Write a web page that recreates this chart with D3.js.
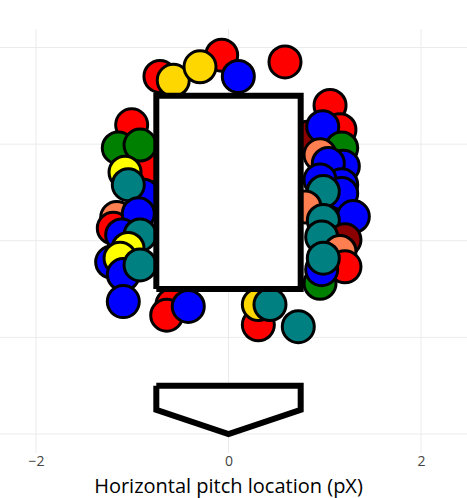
<!DOCTYPE html>
<html>
<head>
<meta charset="utf-8">
<script src="https://cdn.jsdelivr.net/npm/d3@7"></script>
<style>
  html, body { margin: 0; padding: 0; background: #fff; }
  svg { display: block; font-family: "Open Sans", verdana, arial, sans-serif; }
</style>
</head>
<body>
<svg id="chart" width="467" height="498"></svg>
<script>
// ---- data ----
const pitchTypes = ["FF","CU","FF","CU","SL","FF",
  "FF","KC","FF","SI","SI","FC","SL","CH","FT","FF","SL","SL","CH","FC","SL","FC","SL","CH","SL",
  "FF","FF","SL","FF","CU","CH","CH",
  "FF","FF","KC","SL","SI","FT","SL","SL","SL","SL","SL","CH","FT","SL","CH","KC","CH","FT","FF","SI","SL","CH"];
const pitchX = [-0.712,-0.574,-0.071,-0.296,0.102,0.587,
  -1.006,-0.989,-0.798,-1.145,-0.919,-1.075,-0.885,-1.041,-1.162,-1.197,-0.937,-1.110,-0.919,-1.044,-1.214,-1.127,-1.093,-0.919,-1.093,
  -0.587,-0.642,-0.418,0.310,0.310,0.431,0.725,
  1.055,1.158,0.826,0.979,1.176,0.951,1.193,1.037,1.176,0.951,1.176,0.985,0.795,1.297,0.985,1.210,0.968,1.158,1.210,0.951,0.968,0.985];
const pitchZ = [3.70,3.66,3.92,3.80,3.70,3.85,
  3.20,2.77,2.78,2.96,2.99,2.71,2.47,2.58,2.24,2.13,2.28,2.06,2.06,1.92,1.78,1.82,1.65,1.75,1.37,
  1.34,1.23,1.32,1.13,1.34,1.34,1.11,
  3.40,3.15,3.07,3.18,2.96,2.89,2.77,2.80,2.58,2.63,2.49,2.51,2.35,2.25,2.21,2.01,2.04,1.89,1.73,1.56,1.70,1.82];
const typeNames = ["FF","SL","CH","CU","SI","FC","FT","KC"];
const typeColors = ["#ff0000","#0000ff","#008080","#ffd700","#008000","#ffff00","#ff7f50","#8b0000"];
const xTicks = [-2, 0, 2];
const zGrid = [0, 1, 2, 3, 4];
const zoneX = [-0.75, 0.75];
const zoneZ = [1.5, 3.5];
const plateX = [-0.75, 0.75, 0.75, 0, -0.75, -0.75];
const plateZ = [0.5, 0.5, 0.25, 0, 0.25, 0.5];
const xTitle = "Horizontal pitch location (pX)";

// ---- scales ----
const W = 467, H = 498;
const plotTop = 29, plotBottom = 453;
const x = d3.scaleLinear().domain([-2, 2]).range([36, 421]);
const y = d3.scaleLinear().domain([0, 4]).range([434, 47.5]);
const color = d3.scaleOrdinal().domain(typeNames).range(typeColors);

const svg = d3.select("#chart");

// grid
svg.append("g").selectAll("line").data(zGrid).join("line")
  .attr("x1", 0).attr("x2", W)
  .attr("y1", d => y(d)).attr("y2", d => y(d))
  .attr("stroke", "#ebebeb").attr("stroke-width", 1);
svg.append("g").selectAll("line").data(xTicks).join("line")
  .attr("x1", d => x(d)).attr("x2", d => x(d))
  .attr("y1", plotTop).attr("y2", plotBottom)
  .attr("stroke", "#ebebeb").attr("stroke-width", 1);

// points
const pts = pitchX.map((px, i) => ({px, pz: pitchZ[i], t: pitchTypes[i]}));
svg.append("g").selectAll("circle").data(pts).join("circle")
  .attr("cx", d => x(d.px)).attr("cy", d => y(d.pz))
  .attr("r", 16)
  .attr("fill", d => color(d.t))
  .attr("stroke", "#000").attr("stroke-width", 3);

// strike zone (drawn over points)
const line = d3.line().x(d => x(d[0])).y(d => y(d[1]));
const zonePts = [[zoneX[0], zoneZ[0]], [zoneX[0], zoneZ[1]], [zoneX[1], zoneZ[1]], [zoneX[1], zoneZ[0]], [zoneX[0], zoneZ[0]]];
svg.append("path").attr("d", line(zonePts))
  .attr("fill", "#fff").attr("stroke", "#000").attr("stroke-width", 6)
  .attr("stroke-linejoin", "miter");

// home plate
const platePts = plateX.map((px, i) => [px, plateZ[i]]);
svg.append("path").attr("d", line(platePts))
  .attr("fill", "#fff").attr("stroke", "#000").attr("stroke-width", 6)
  .attr("stroke-linejoin", "miter");

// x axis
const axis = d3.axisBottom(x).tickValues(xTicks).tickSize(0).tickPadding(3).tickFormat(d3.format("d"));
const gAxis = svg.append("g").attr("transform", `translate(0,${plotBottom})`).call(axis);
gAxis.select(".domain").remove();
gAxis.selectAll("text").attr("fill", "#444").style("font-size", "14px")
  .style("font-family", "'Open Sans', verdana, arial, sans-serif");

// title
svg.append("text").attr("x", x(0)).attr("y", 492.5)
  .attr("text-anchor", "middle").attr("fill", "#000")
  .style("font-size", "20px").text(xTitle);
</script>
</body>
</html>
